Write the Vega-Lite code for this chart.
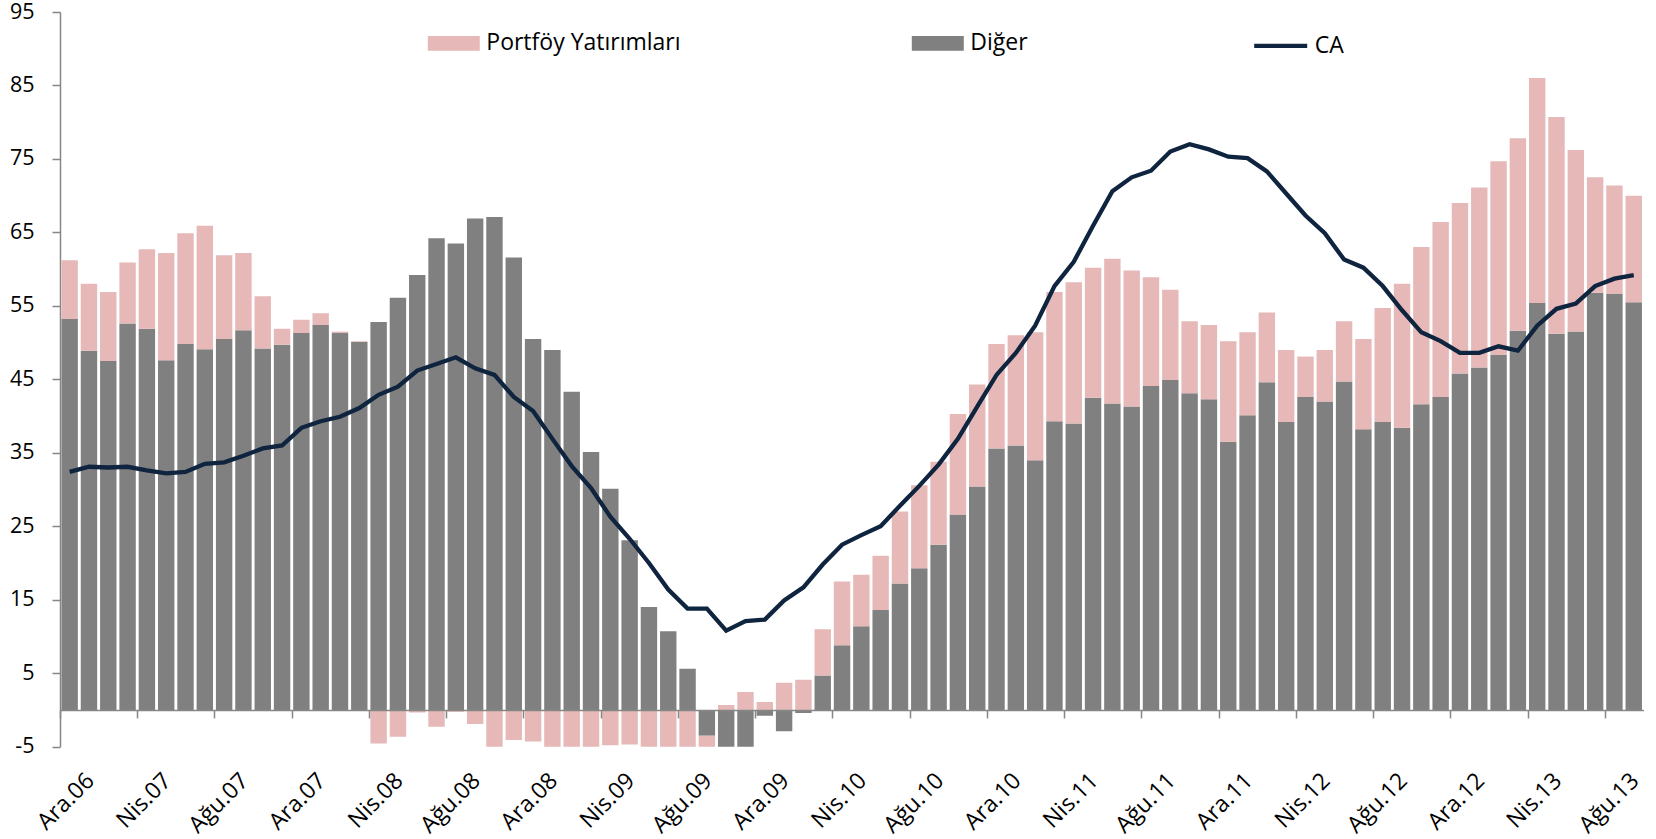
{
  "$schema": "https://vega.github.io/schema/vega-lite/v6.json",
  "width": 1583.4,
  "height": 734.7,
  "autosize": {"type": "none"},
  "padding": {"left": 60, "top": 12, "right": 12.6, "bottom": 92.3},
  "background": "white",
  "config": {"view": {"stroke": null}, "font": "Open Sans"},
  "data": {"values": [
    {"ay": "Ara.06", "diger": 53.2, "portfoy": 8.0, "ca": 32.4},
    {"ay": "Oca.07", "diger": 48.9, "portfoy": 9.1, "ca": 33.1},
    {"ay": "Şub.07", "diger": 47.5, "portfoy": 9.4, "ca": 33.0},
    {"ay": "Mar.07", "diger": 52.6, "portfoy": 8.3, "ca": 33.1},
    {"ay": "Nis.07", "diger": 51.9, "portfoy": 10.8, "ca": 32.6},
    {"ay": "May.07", "diger": 47.6, "portfoy": 14.6, "ca": 32.2},
    {"ay": "Haz.07", "diger": 49.8, "portfoy": 15.1, "ca": 32.4},
    {"ay": "Tem.07", "diger": 49.1, "portfoy": 16.8, "ca": 33.5},
    {"ay": "Ağu.07", "diger": 50.5, "portfoy": 11.4, "ca": 33.7},
    {"ay": "Eyl.07", "diger": 51.7, "portfoy": 10.5, "ca": 34.6},
    {"ay": "Eki.07", "diger": 49.2, "portfoy": 7.1, "ca": 35.6},
    {"ay": "Kas.07", "diger": 49.7, "portfoy": 2.2, "ca": 36.0},
    {"ay": "Ara.07", "diger": 51.3, "portfoy": 1.8, "ca": 38.4},
    {"ay": "Oca.08", "diger": 52.4, "portfoy": 1.6, "ca": 39.3},
    {"ay": "Şub.08", "diger": 51.3, "portfoy": 0.2, "ca": 39.9},
    {"ay": "Mar.08", "diger": 50.1, "portfoy": 0.1, "ca": 41.1},
    {"ay": "Nis.08", "diger": 52.8, "portfoy": -4.55, "ca": 42.9},
    {"ay": "May.08", "diger": 56.1, "portfoy": -3.65, "ca": 44.0},
    {"ay": "Haz.08", "diger": 59.2, "portfoy": -0.35, "ca": 46.2},
    {"ay": "Tem.08", "diger": 64.2, "portfoy": -2.3, "ca": 47.1},
    {"ay": "Ağu.08", "diger": 63.5, "portfoy": -0.25, "ca": 48.0},
    {"ay": "Eyl.08", "diger": 66.9, "portfoy": -1.9, "ca": 46.5},
    {"ay": "Eki.08", "diger": 67.1, "portfoy": -6.0, "ca": 45.6},
    {"ay": "Kas.08", "diger": 61.6, "portfoy": -4.1, "ca": 42.6},
    {"ay": "Ara.08", "diger": 50.5, "portfoy": -4.3, "ca": 40.7},
    {"ay": "Oca.09", "diger": 49.0, "portfoy": -6.5, "ca": 36.9},
    {"ay": "Şub.09", "diger": 43.3, "portfoy": -7.0, "ca": 33.2},
    {"ay": "Mar.09", "diger": 35.1, "portfoy": -6.5, "ca": 30.2},
    {"ay": "Nis.09", "diger": 30.1, "portfoy": -4.8, "ca": 26.3},
    {"ay": "May.09", "diger": 23.1, "portfoy": -4.7, "ca": 23.3},
    {"ay": "Haz.09", "diger": 14.0, "portfoy": -6.5, "ca": 20.0},
    {"ay": "Tem.09", "diger": 10.7, "portfoy": -7.0, "ca": 16.4},
    {"ay": "Ağu.09", "diger": 5.6, "portfoy": -6.0, "ca": 13.8},
    {"ay": "Eyl.09", "diger": -3.5, "portfoy": -3.0, "ca": 13.8},
    {"ay": "Eki.09", "diger": -5.3, "portfoy": 0.66, "ca": 10.8},
    {"ay": "Kas.09", "diger": -5.2, "portfoy": 2.45, "ca": 12.1},
    {"ay": "Ara.09", "diger": -0.8, "portfoy": 1.1, "ca": 12.3},
    {"ay": "Oca.10", "diger": -2.9, "portfoy": 3.7, "ca": 14.9},
    {"ay": "Şub.10", "diger": -0.4, "portfoy": 4.1, "ca": 16.7},
    {"ay": "Mar.10", "diger": 4.7, "portfoy": 6.3, "ca": 19.8},
    {"ay": "Nis.10", "diger": 8.8, "portfoy": 8.7, "ca": 22.5},
    {"ay": "May.10", "diger": 11.4, "portfoy": 7.0, "ca": 23.8},
    {"ay": "Haz.10", "diger": 13.6, "portfoy": 7.4, "ca": 25.0},
    {"ay": "Tem.10", "diger": 17.2, "portfoy": 9.8, "ca": 27.8},
    {"ay": "Ağu.10", "diger": 19.3, "portfoy": 11.3, "ca": 30.5},
    {"ay": "Eyl.10", "diger": 22.5, "portfoy": 11.3, "ca": 33.4},
    {"ay": "Eki.10", "diger": 26.6, "portfoy": 13.7, "ca": 36.9},
    {"ay": "Kas.10", "diger": 30.4, "portfoy": 13.9, "ca": 41.3},
    {"ay": "Ara.10", "diger": 35.6, "portfoy": 14.2, "ca": 45.6},
    {"ay": "Oca.11", "diger": 36.0, "portfoy": 15.0, "ca": 48.6},
    {"ay": "Şub.11", "diger": 34.0, "portfoy": 17.4, "ca": 52.3},
    {"ay": "Mar.11", "diger": 39.3, "portfoy": 17.6, "ca": 57.7},
    {"ay": "Nis.11", "diger": 39.0, "portfoy": 19.2, "ca": 61.0},
    {"ay": "May.11", "diger": 42.5, "portfoy": 17.7, "ca": 65.9},
    {"ay": "Haz.11", "diger": 41.7, "portfoy": 19.7, "ca": 70.6},
    {"ay": "Tem.11", "diger": 41.3, "portfoy": 18.5, "ca": 72.5},
    {"ay": "Ağu.11", "diger": 44.1, "portfoy": 14.8, "ca": 73.4},
    {"ay": "Eyl.11", "diger": 44.9, "portfoy": 12.3, "ca": 76.0},
    {"ay": "Eki.11", "diger": 43.1, "portfoy": 9.8, "ca": 77.0},
    {"ay": "Kas.11", "diger": 42.3, "portfoy": 10.1, "ca": 76.3},
    {"ay": "Ara.11", "diger": 36.5, "portfoy": 13.7, "ca": 75.3},
    {"ay": "Oca.12", "diger": 40.1, "portfoy": 11.3, "ca": 75.1},
    {"ay": "Şub.12", "diger": 44.6, "portfoy": 9.5, "ca": 73.3},
    {"ay": "Mar.12", "diger": 39.2, "portfoy": 9.8, "ca": 70.3},
    {"ay": "Nis.12", "diger": 42.6, "portfoy": 5.5, "ca": 67.3},
    {"ay": "May.12", "diger": 42.0, "portfoy": 7.0, "ca": 64.9},
    {"ay": "Haz.12", "diger": 44.7, "portfoy": 8.2, "ca": 61.3},
    {"ay": "Tem.12", "diger": 38.2, "portfoy": 12.3, "ca": 60.2},
    {"ay": "Ağu.12", "diger": 39.2, "portfoy": 15.5, "ca": 57.7},
    {"ay": "Eyl.12", "diger": 38.4, "portfoy": 19.6, "ca": 54.4},
    {"ay": "Eki.12", "diger": 41.6, "portfoy": 21.4, "ca": 51.4},
    {"ay": "Kas.12", "diger": 42.6, "portfoy": 23.8, "ca": 50.2},
    {"ay": "Ara.12", "diger": 45.8, "portfoy": 23.2, "ca": 48.6},
    {"ay": "Oca.13", "diger": 46.6, "portfoy": 24.5, "ca": 48.6},
    {"ay": "Şub.13", "diger": 48.3, "portfoy": 26.4, "ca": 49.5},
    {"ay": "Mar.13", "diger": 51.6, "portfoy": 26.2, "ca": 48.9},
    {"ay": "Nis.13", "diger": 55.4, "portfoy": 30.6, "ca": 52.3},
    {"ay": "May.13", "diger": 51.2, "portfoy": 29.5, "ca": 54.6},
    {"ay": "Haz.13", "diger": 51.5, "portfoy": 24.7, "ca": 55.3},
    {"ay": "Tem.13", "diger": 56.8, "portfoy": 15.7, "ca": 57.7},
    {"ay": "Ağu.13", "diger": 56.6, "portfoy": 14.8, "ca": 58.7},
    {"ay": "Eyl.13", "diger": 55.5, "portfoy": 14.5, "ca": 59.2}
  ]},
  "encoding": {
    "x": {
      "field": "ay",
      "type": "nominal",
      "scale": {
        "domain": ["Ara.06","Oca.07","Şub.07","Mar.07","Nis.07","May.07","Haz.07","Tem.07","Ağu.07","Eyl.07","Eki.07","Kas.07","Ara.07","Oca.08","Şub.08","Mar.08","Nis.08","May.08","Haz.08","Tem.08","Ağu.08","Eyl.08","Eki.08","Kas.08","Ara.08","Oca.09","Şub.09","Mar.09","Nis.09","May.09","Haz.09","Tem.09","Ağu.09","Eyl.09","Eki.09","Kas.09","Ara.09","Oca.10","Şub.10","Mar.10","Nis.10","May.10","Haz.10","Tem.10","Ağu.10","Eyl.10","Eki.10","Kas.10","Ara.10","Oca.11","Şub.11","Mar.11","Nis.11","May.11","Haz.11","Tem.11","Ağu.11","Eyl.11","Eki.11","Kas.11","Ara.11","Oca.12","Şub.12","Mar.12","Nis.12","May.12","Haz.12","Tem.12","Ağu.12","Eyl.12","Eki.12","Kas.12","Ara.12","Oca.13","Şub.13","Mar.13","Nis.13","May.13","Haz.13","Tem.13","Ağu.13","Eyl.13"],
        "paddingInner": 0.15,
        "paddingOuter": 0.075
      },
      "axis": {
        "title": null,
        "orient": "bottom",
        "offset": -36.74,
        "values": ["Ara.06","Nis.07","Ağu.07","Ara.07","Nis.08","Ağu.08","Ara.08","Nis.09","Ağu.09","Ara.09","Nis.10","Ağu.10","Ara.10","Nis.11","Ağu.11","Ara.11","Nis.12","Ağu.12","Ara.12","Nis.13","Ağu.13"],
        "bandPosition": 0,
        "tickOffset": -1.45,
        "labelOffset": 14,
        "labelAngle": -45,
        "labelAlign": "right",
        "labelBaseline": "top",
        "labelPadding": 51,
        "labelOverlap": false,
        "labelFont": "Open Sans",
        "labelFontSize": 23,
        "labelColor": "#000000",
        "tickSize": 8,
        "tickColor": "#868686",
        "tickWidth": 1.5,
        "domainColor": "#868686",
        "domainWidth": 1.5,
        "grid": false,
        "zindex": 1
      }
    }
  },
  "layer": [
    {
      "transform": [{"fold": ["diger", "portfoy"], "as": ["seri", "deger"]}],
      "mark": {"type": "bar", "clip": true},
      "encoding": {
        "y": {
          "field": "deger",
          "type": "quantitative",
          "stack": "zero",
          "scale": {"domain": [-5, 95], "nice": false},
          "axis": {
            "title": null,
            "values": [-5, 5, 15, 25, 35, 45, 55, 65, 75, 85, 95],
            "labelExpr": "'' + datum.value",
            "grid": false,
            "labelFont": "Open Sans",
            "labelFontSize": 21.5,
            "labelColor": "#000000",
            "labelPadding": 18,
            "tickSize": 8,
            "tickColor": "#868686",
            "tickWidth": 1.5,
            "domainColor": "#868686",
            "domainWidth": 1.5
          }
        },
        "fill": {
          "field": "seri",
          "type": "nominal",
          "scale": {"domain": ["portfoy", "diger"], "range": ["#E6B9B8", "#808080"]},
          "legend": {
            "orient": "none",
            "legendX": 367.8,
            "legendY": 5.3,
            "direction": "horizontal",
            "title": null,
            "padding": 0,
            "symbolType": "M-1,-0.283H1V0.283H-1Z",
            "symbolSize": 2704,
            "symbolStrokeWidth": 0,
            "labelFont": "Open Sans",
            "labelFontSize": 23,
            "labelColor": "#000000",
            "labelOffset": 6.5,
            "labelLimit": 400,
            "columnPadding": 231,
            "labelExpr": "datum.label == 'portfoy' ? 'Portföy Yatırımları' : 'Diğer'"
          }
        },
        "order": {"field": "seri", "sort": "ascending"}
      }
    },
    {
      "mark": {"type": "line", "strokeWidth": 4.3, "clip": true},
      "encoding": {
        "y": {"field": "ca", "type": "quantitative"},
        "stroke": {
          "datum": "CA",
          "type": "nominal",
          "scale": {"range": ["#0F243E"]},
          "legend": {
            "orient": "none",
            "legendX": 1191.7,
            "legendY": 4.8,
            "title": null,
            "padding": 0,
            "symbolType": "stroke",
            "symbolSize": 2809,
            "symbolStrokeWidth": 4.3,
            "labelFont": "Open Sans",
            "labelFontSize": 23,
            "labelColor": "#000000",
            "labelOffset": 5
          }
        }
      }
    }
  ]
}
